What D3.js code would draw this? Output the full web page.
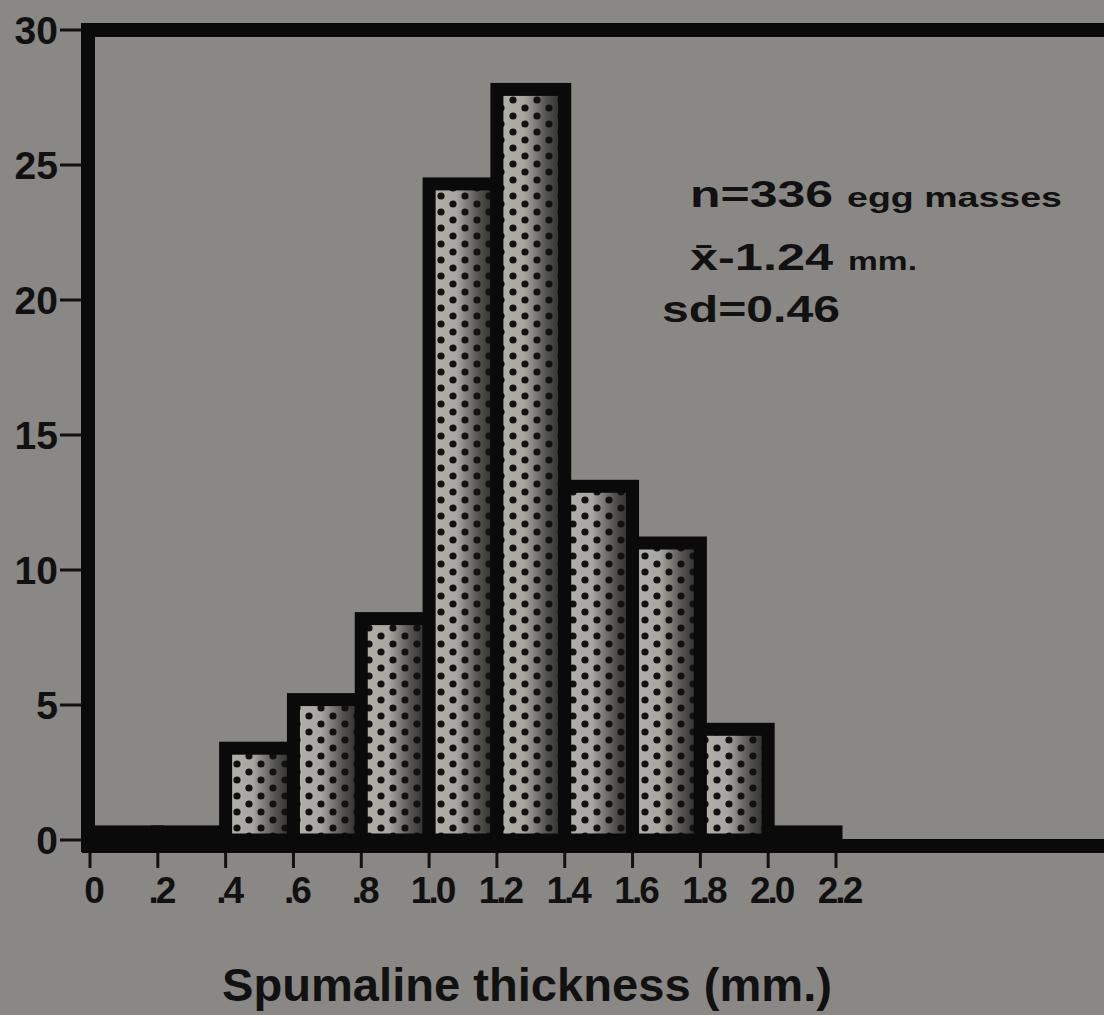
<!DOCTYPE html>
<html>
<head>
<meta charset="utf-8">
<script src="https://cdn.jsdelivr.net/npm/d3@7"></script>
<style>
  body { margin: 0; background: #8a8884; }
  svg { display: block; }
</style>
</head>
<body>
<div id="chart"></div>
<script>
// histogram bins (lower edge, mm) and percent of egg masses
const binStarts = [0, 0.2, 0.4, 0.6, 0.8, 1.0, 1.2, 1.4, 1.6, 1.8, 2.0];
const binValues = [0.3, 0.3, 3.4, 5.2, 8.2, 24.3, 27.8, 13.1, 11.0, 4.1, 0.3];
const binWidth = 0.2;
const xTicks = [0, 0.2, 0.4, 0.6, 0.8, 1.0, 1.2, 1.4, 1.6, 1.8, 2.0, 2.2];
const xTickLabels = ["0", ".2", ".4", ".6", ".8", "1.0", "1.2", "1.4", "1.6", "1.8", "2.0", "2.2"];
const yTicks = [0, 5, 10, 15, 20, 25, 30];

const width = 1104;
const height = 1015;
const font = "'Liberation Sans', Arial, sans-serif";

const x = d3.scaleLinear().domain([0, 2.2]).range([90, 836]);
const y = d3.scaleLinear().domain([0, 30]).range([840, 30]);

const svg = d3
  .select("#chart")
  .append("svg")
  .attr("width", width)
  .attr("height", height);

svg.append("rect").attr("width", width).attr("height", height).attr("fill", "#8a8884");

const defs = svg.append("defs");

// dark smudge toward the right side of every bar
const grad = defs
  .append("linearGradient")
  .attr("id", "shade")
  .attr("x1", "0").attr("x2", "1").attr("y1", "0").attr("y2", "0");
grad.append("stop").attr("offset", "0%").attr("stop-color", "#b3b1ac");
grad.append("stop").attr("offset", "40%").attr("stop-color", "#a8a6a1");
grad.append("stop").attr("offset", "72%").attr("stop-color", "#555451");
grad.append("stop").attr("offset", "100%").attr("stop-color", "#262625");

// staggered dot screen
const pat = defs
  .append("pattern")
  .attr("id", "dots")
  .attr("patternUnits", "userSpaceOnUse")
  .attr("x", 3)
  .attr("width", 24)
  .attr("height", 16);
pat.append("circle").attr("cx", 6).attr("cy", 4).attr("r", 3.6).attr("fill", "#111");
pat.append("circle").attr("cx", 18).attr("cy", 12).attr("r", 3.6).attr("fill", "#111");

const bars = svg
  .append("g")
  .selectAll("g")
  .data(binStarts.map((s, i) => ({ start: s, value: binValues[i] })))
  .join("g");

bars
  .append("rect")
  .attr("x", (d) => x(d.start))
  .attr("y", (d) => y(d.value))
  .attr("width", (d) => x(d.start + binWidth) - x(d.start))
  .attr("height", (d) => y(0) - y(d.value))
  .attr("fill", "url(#shade)");

bars
  .append("rect")
  .attr("x", (d) => x(d.start))
  .attr("y", (d) => y(d.value))
  .attr("width", (d) => x(d.start + binWidth) - x(d.start))
  .attr("height", (d) => y(0) - y(d.value))
  .attr("fill", "url(#dots)")
  .attr("stroke", "#0a0a0a")
  .attr("stroke-width", 13);

// frame: top and left borders, bottom axis line
svg.append("line").attr("x1", 88).attr("x2", width).attr("y1", 30).attr("y2", 30)
  .attr("stroke", "#0a0a0a").attr("stroke-width", 14);
svg.append("line").attr("x1", 88).attr("x2", 88).attr("y1", 23).attr("y2", 852)
  .attr("stroke", "#0a0a0a").attr("stroke-width", 14);
svg.append("line").attr("x1", 82).attr("x2", width).attr("y1", 846).attr("y2", 846)
  .attr("stroke", "#0a0a0a").attr("stroke-width", 14);

// y axis: labels with small dashes
const yAxis = svg.append("g");
yTicks.forEach((t) => {
  yAxis.append("line")
    .attr("x1", 60).attr("x2", 82).attr("y1", y(t)).attr("y2", y(t))
    .attr("stroke", "#111").attr("stroke-width", 3);
  yAxis.append("text")
    .attr("x", 58).attr("y", y(t)).attr("dy", "0.36em")
    .attr("text-anchor", "end")
    .attr("font-family", font).attr("font-weight", "bold").attr("font-size", 39)
    .attr("fill", "#111")
    .text(t);
});

// x axis ticks below the line
const xAxis = svg.append("g");
xTicks.forEach((t, i) => {
  xAxis.append("line")
    .attr("x1", x(t)).attr("x2", x(t)).attr("y1", 853).attr("y2", 868)
    .attr("stroke", "#111").attr("stroke-width", 3);
  xAxis.append("text")
    .attr("x", x(t) + 3).attr("y", 903)
    .attr("text-anchor", "middle")
    .attr("font-family", font).attr("font-weight", "bold").attr("font-size", 37)
    .attr("letter-spacing", "-3")
    .attr("fill", "#111")
    .text(xTickLabels[i]);
});

svg.append("text")
  .attr("x", 222).attr("y", 1001)
  .attr("textLength", 610).attr("lengthAdjust", "spacingAndGlyphs")
  .attr("font-family", font).attr("font-weight", "bold").attr("font-size", 47)
  .attr("fill", "#111")
  .text("Spumaline thickness (mm.)");

// summary statistics
const note = svg.append("g")
  .attr("font-family", font).attr("font-weight", "bold").attr("fill", "#111");
const noteParts = [
  { t: "n=336", x: 690, y: 207, len: 143, size: 36 },
  { t: "egg masses", x: 847, y: 207, len: 215, size: 27 },
  { t: "x̄-1.24", x: 690, y: 270, len: 143, size: 36 },
  { t: "mm.", x: 848, y: 270, len: 69, size: 26 },
  { t: "sd=0.46", x: 662, y: 322, len: 178, size: 36 },
];
noteParts.forEach((p) => {
  note.append("text")
    .attr("x", p.x).attr("y", p.y)
    .attr("textLength", p.len).attr("lengthAdjust", "spacingAndGlyphs")
    .attr("font-size", p.size)
    .text(p.t);
});
</script>
</body>
</html>
